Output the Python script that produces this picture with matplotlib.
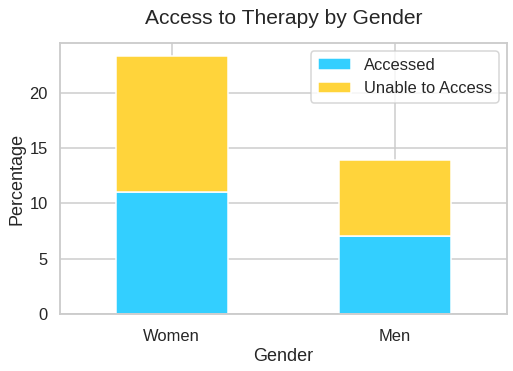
import numpy as np
import pandas as pd
import seaborn as sns
import matplotlib
matplotlib.use("Agg")
import matplotlib.pyplot as plt

genders = ["Women", "Men"]
accessed = [11.0, 7.0]
unable = [12.33, 6.9]

sns.set_theme(style="whitegrid", context="talk")
plt.rcParams["font.family"] = ["Liberation Sans", "DejaVu Sans"]

df = pd.DataFrame({"Accessed": accessed, "Unable to Access": unable}, index=genders)

fig, ax = plt.subplots(figsize=(513 / 72, 371 / 72), dpi=72)
df.plot(kind="bar", stacked=True, ax=ax, color=["#33CFFF", "#FFD43B"],
        edgecolor="white", linewidth=1.5, width=0.5)
ax.set_title("Access to Therapy by Gender", pad=19, fontsize=21)
ax.set_xlabel("Gender", fontsize=18, labelpad=4)
ax.set_ylabel("Percentage", fontsize=18)
ax.set_xticklabels(genders, rotation=0)
ax.tick_params(labelsize=16.5)
ax.tick_params(axis="x", pad=6.5)
ax.legend(loc="upper right", fontsize=16.5)
fig.subplots_adjust(left=0.117, right=0.988, top=0.884, bottom=0.154)
fig.savefig("out.png", dpi=72)
